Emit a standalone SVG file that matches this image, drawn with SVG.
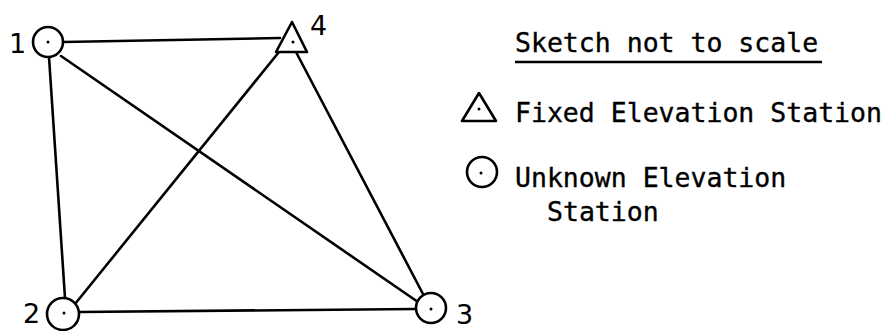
<svg xmlns="http://www.w3.org/2000/svg" width="887" height="331" viewBox="0 0 887 331">
<style>
.ln{stroke:#000;stroke-width:2.6;fill:none;stroke-linecap:round}
.sym{stroke:#000;stroke-width:2.6;fill:#fff;stroke-linejoin:round}
.dot{fill:#000}
.t{font-family:"DejaVu Sans Mono","Liberation Mono",monospace;font-size:26.5px;fill:#000;stroke:#000;stroke-width:0.35}
.n{font-family:"DejaVu Sans","Liberation Sans",sans-serif;font-size:27px;fill:#000}
</style>
<rect width="887" height="331" fill="#fff"/>
<g id="connectors">
<line class="ln" x1="63" y1="42" x2="280" y2="38"/>
<line class="ln" x1="49" y1="57" x2="65" y2="298"/>
<line class="ln" x1="61" y1="56" x2="418" y2="302"/>
<line class="ln" x1="279" y1="52" x2="75" y2="304"/>
<line class="ln" x1="296" y1="52" x2="423" y2="294"/>
<line class="ln" x1="79" y1="312" x2="416" y2="309"/>
</g>
<g id="node1">
<circle class="sym" cx="48" cy="42" r="15"/>
<circle class="dot" cx="48" cy="42" r="1.5"/>
<text class="n" x="9" y="53">1</text>
</g>
<g id="node2">
<circle class="sym" cx="63" cy="314" r="16"/>
<circle class="dot" cx="64" cy="313" r="1.5"/>
<text class="n" x="23" y="323">2</text>
</g>
<g id="node3">
<circle class="sym" cx="431" cy="308" r="15"/>
<circle class="dot" cx="431" cy="309" r="1.5"/>
<text class="n" x="456" y="324">3</text>
</g>
<g id="node4">
<path class="sym" d="M292 22 L307 52 L276 52 Z"/>
<circle class="dot" cx="293" cy="42" r="1.5"/>
<text class="n" x="310" y="35">4</text>
</g>
<g id="legend">
<text class="t" x="515" y="52">Sketch not to scale</text>
<line x1="515" y1="62" x2="822" y2="62" stroke="#000" stroke-width="2.4"/>
<path class="sym" d="M479 93 L496 121 L462 121 Z"/>
<circle class="dot" cx="479" cy="109" r="1.5"/>
<text class="t" x="515" y="122">Fixed Elevation Station</text>
<circle class="sym" cx="482" cy="172" r="15"/>
<circle class="dot" cx="481" cy="173" r="1.5"/>
<text class="t" x="515" y="187">Unknown Elevation</text>
<text class="t" x="547" y="221">Station</text>
</g>
</svg>
